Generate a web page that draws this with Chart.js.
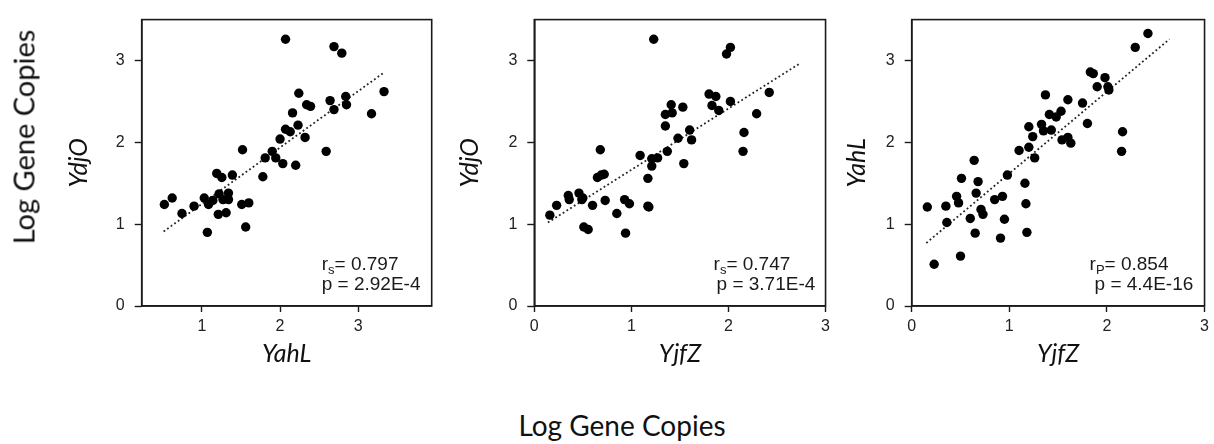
<!DOCTYPE html>
<html lang="en">
<head>
    <meta charset="UTF-8">
    <title>Log Gene Copies</title>
    <script src="https://cdn.jsdelivr.net/npm/chart.js"></script>
    <style>
        body {
            margin: 0;
            width: 1214px;
            height: 444px;
            background: #fff;
            position: relative;
            overflow: hidden;
        }
        canvas {
            position: absolute;
            top: 0;
        }
        .big-title {
            position: absolute;
            font-family: Lato, "Open Sans", sans-serif;
            font-size: 29px;
            color: #111;
            white-space: nowrap;
        }
        #leftTitle {
            left: 23px;
            top: 137px;
            transform: translate(-50%, -50%) rotate(-90deg);
        }
        #bottomTitle {
            left: 622px;
            top: 425px;
            font-size: 28px;
            transform: translate(-50%, -50%);
        }
    </style>
</head>
<body>
    <canvas id="panel1" width="445" height="390" style="left:0px"></canvas>
    <canvas id="panel2" width="390" height="390" style="left:445px"></canvas>
    <canvas id="panel3" width="379" height="390" style="left:835px"></canvas>
    <div class="big-title" id="leftTitle">Log Gene Copies</div>
    <div class="big-title" id="bottomTitle">Log Gene Copies</div>

    <script>
        // Panel 1: YahL (x) vs YdjO (y)
        const p1YahL = [0.52, 0.62, 0.745, 0.90, 1.03, 1.07, 1.085, 1.14, 1.19, 1.255, 1.22, 1.21, 1.27, 1.31, 1.34, 1.34,
            1.39, 1.52, 1.51, 1.60, 1.56, 1.78, 1.81, 1.90, 1.945, 2.00, 2.035, 2.07, 2.07, 2.13, 2.16, 2.20,
            2.23, 2.24, 2.32, 2.34, 2.39, 2.59, 2.64, 2.69, 2.69, 2.79, 2.84, 2.85, 3.17, 3.33];
        const p1YdjO = [1.24, 1.32, 1.13, 1.22, 1.32, 0.90, 1.24, 1.29, 1.62, 1.57, 1.37, 1.12, 1.30, 1.14, 1.38, 1.30,
            1.60, 1.91, 1.24, 1.26, 0.965, 1.58, 1.81, 1.89, 1.81, 2.04, 1.74, 2.16, 3.26, 2.13, 2.36, 1.72,
            2.21, 2.60, 2.06, 2.46, 2.44, 1.89, 2.51, 2.40, 3.17, 3.09, 2.56, 2.46, 2.35, 2.62];

        // Panel 2: YjfZ (x) vs YdjO (y)
        const p2YjfZ = [0.16, 0.23, 0.35, 0.36, 0.46, 0.49, 0.50, 0.51, 0.555, 0.60, 0.68, 0.65, 0.69, 0.72, 0.73, 0.85,
            0.93, 0.98, 0.94, 1.09, 1.17, 1.17, 1.18, 1.21, 1.21, 1.27, 1.23, 1.35, 1.35, 1.37, 1.41, 1.42,
            1.48, 1.53, 1.54, 1.60, 1.62, 1.80, 1.83, 1.87, 1.90, 1.98, 2.02, 2.02, 2.16, 2.15, 2.29, 2.42];
        const p2YdjO = [1.11, 1.23, 1.35, 1.30, 1.38, 1.30, 1.32, 0.965, 0.935, 1.23, 1.91, 1.57, 1.60, 1.61, 1.29, 1.13,
            1.30, 1.25, 0.89, 1.84, 1.56, 1.22, 1.21, 1.71, 1.80, 1.81, 3.26, 2.20, 2.34, 1.89, 2.46, 2.36,
            2.05, 2.43, 1.74, 2.15, 2.03, 2.59, 2.45, 2.56, 2.39, 3.08, 3.16, 2.50, 2.12, 1.89, 2.35, 2.61];

        // Panel 3: YjfZ (x) vs YahL (y)
        const p3YjfZ = [0.16, 0.23, 0.35, 0.36, 0.46, 0.48, 0.51, 0.50, 0.60, 0.64, 0.65, 0.68, 0.66, 0.71, 0.73, 0.85,
            0.93, 0.95, 0.91, 0.98, 1.10, 1.16, 1.17, 1.18, 1.20, 1.20, 1.24, 1.26, 1.33, 1.35, 1.37, 1.41,
            1.43, 1.48, 1.53, 1.54, 1.60, 1.60, 1.63, 1.75, 1.80, 1.83, 1.86, 1.90, 1.98, 2.01, 2.02, 2.16,
            2.15, 2.29, 2.42];
        const p3YahL = [1.21, 0.51, 1.22, 1.02, 1.34, 1.26, 1.56, 0.61, 1.07, 1.78, 0.89, 1.52, 1.38, 1.18, 1.12, 1.30,
            1.34, 1.06, 0.83, 1.60, 1.90, 1.50, 1.25, 0.90, 1.94, 2.19, 2.07, 1.81, 2.22, 2.14, 2.58, 2.34,
            2.15, 2.31, 2.38, 2.03, 2.52, 2.06, 1.99, 2.48, 2.23, 2.86, 2.84, 2.68, 2.79, 2.68, 2.64, 2.13,
            1.89, 3.16, 3.33];

        // dotted trend lines (end points)
        const trend1X = [0.51, 3.34], trend1Y = [0.91, 2.86];
        const trend2X = [0.14, 2.73], trend2Y = [1.02, 2.96];
        const trend3X = [0.15, 2.64], trend3Y = [0.77, 3.26];

        const yTicks = [0, 1, 2, 3];
        const stats = [
            { sub: 's', r: '0.797', p: '2.92E-4' },
            { sub: 's', r: '0.747', p: '3.71E-4' },
            { sub: 'P', r: '0.854', p: '4.4E-16' }
        ];

        const tickFont = { family: '"Liberation Sans", Arial, sans-serif', size: 16 };
        const titleFont = { family: 'Lato, "Open Sans", sans-serif', size: 25, style: 'italic' };
        const ink = '#1a1a1a';

        function pairs(xs, ys) {
            return xs.map((x, i) => ({ x: x, y: ys[i] }));
        }

        // frame around the plot area and the correlation text
        const boxAndStats = {
            id: 'boxAndStats',
            afterDatasetsDraw(chart, args, opts) {
                const ctx = chart.ctx;
                const a = chart.chartArea;
                const big = '19px "Liberation Sans", Arial, sans-serif';
                const small = '13px "Liberation Sans", Arial, sans-serif';
                ctx.save();
                ctx.strokeStyle = ink;
                ctx.lineWidth = 1.6;
                ctx.strokeRect(a.left, a.top, a.right - a.left, a.bottom - a.top);
                ctx.fillStyle = ink;
                ctx.textBaseline = 'alphabetic';
                let x = a.right - opts.rOff;
                ctx.font = big;
                ctx.fillText('r', x, a.bottom - 36);
                x += ctx.measureText('r').width;
                ctx.font = small;
                ctx.fillText(opts.sub, x, a.bottom - 32);
                x += ctx.measureText(opts.sub).width;
                ctx.font = big;
                ctx.fillText('= ' + opts.r, x, a.bottom - 36);
                ctx.fillText('p = ' + opts.p, a.right - opts.pOff, a.bottom - 16);
                ctx.restore();
            }
        };

        function makePanel(id, xs, ys, tx, ty, xName, yName, s, lay) {
            const ctx = document.getElementById(id).getContext('2d');
            return new Chart(ctx, {
                type: 'scatter',
                data: {
                    datasets: [{
                        data: pairs(xs, ys),
                        backgroundColor: '#000',
                        borderWidth: 0,
                        pointRadius: 4.7
                    }, {
                        type: 'line',
                        data: pairs(tx, ty),
                        borderColor: '#222',
                        borderWidth: 1.8,
                        borderDash: [1.8, 2.6],
                        pointRadius: 0,
                        fill: false
                    }]
                },
                options: {
                    responsive: false,
                    animation: false,
                    layout: { padding: { left: 0, right: lay.right, top: 13, bottom: 0 } },
                    plugins: {
                        legend: { display: false },
                        tooltip: { enabled: false },
                        boxAndStats: { sub: s.sub, r: s.r, p: s.p, rOff: lay.rOff, pOff: lay.pOff }
                    },
                    scales: {
                        x: {
                            type: 'linear',
                            min: lay.xMin,
                            max: lay.xMax,
                            afterFit(scale) { scale.height = 84; },
                            border: { display: true, color: ink, width: 1.6 },
                            grid: { display: true, drawOnChartArea: false, drawTicks: true, tickLength: 6, tickColor: ink, tickWidth: 1.4 },
                            ticks: { stepSize: 1, includeBounds: false, color: '#222', font: tickFont, padding: 5 },
                            title: { display: true, text: xName, color: '#111', font: titleFont, padding: { top: 0, bottom: 21 } }
                        },
                        y: {
                            type: 'linear',
                            min: 0,
                            max: 3.5,
                            afterFit(scale) { scale.width = lay.yWidth; },
                            afterBuildTicks(scale) { scale.ticks = yTicks.map(v => ({ value: v })); },
                            border: { display: true, color: ink, width: 1.6 },
                            grid: { display: true, drawOnChartArea: false, drawTicks: true, tickLength: 7, tickColor: ink, tickWidth: 1.4 },
                            ticks: { color: '#222', font: tickFont, padding: 10 },
                            title: { display: true, text: yName, color: '#111', font: titleFont, padding: { top: lay.yTitle, bottom: 0 } }
                        }
                    }
                },
                plugins: [boxAndStats]
            });
        }

        makePanel('panel1', p1YahL, p1YdjO, trend1X, trend1Y, 'YahL', 'YdjO', stats[0],
            { right: 13.3, yWidth: 141.7, yTitle: 64, xMin: 0.23, xMax: 3.94, rOff: 110, pOff: 110 });
        makePanel('panel2', p2YjfZ, p2YdjO, trend2X, trend2Y, 'YjfZ', 'YdjO', stats[1],
            { right: 9, yWidth: 89.3, yTitle: 10, xMin: 0, xMax: 3, rOff: 112, pOff: 109 });
        makePanel('panel3', p3YjfZ, p3YahL, trend3X, trend3Y, 'YjfZ', 'YahL', stats[2],
            { right: 5.7, yWidth: 76.7, yTitle: 7, xMin: 0, xMax: 3, rOff: 115, pOff: 110 });
    </script>
</body>
</html>
